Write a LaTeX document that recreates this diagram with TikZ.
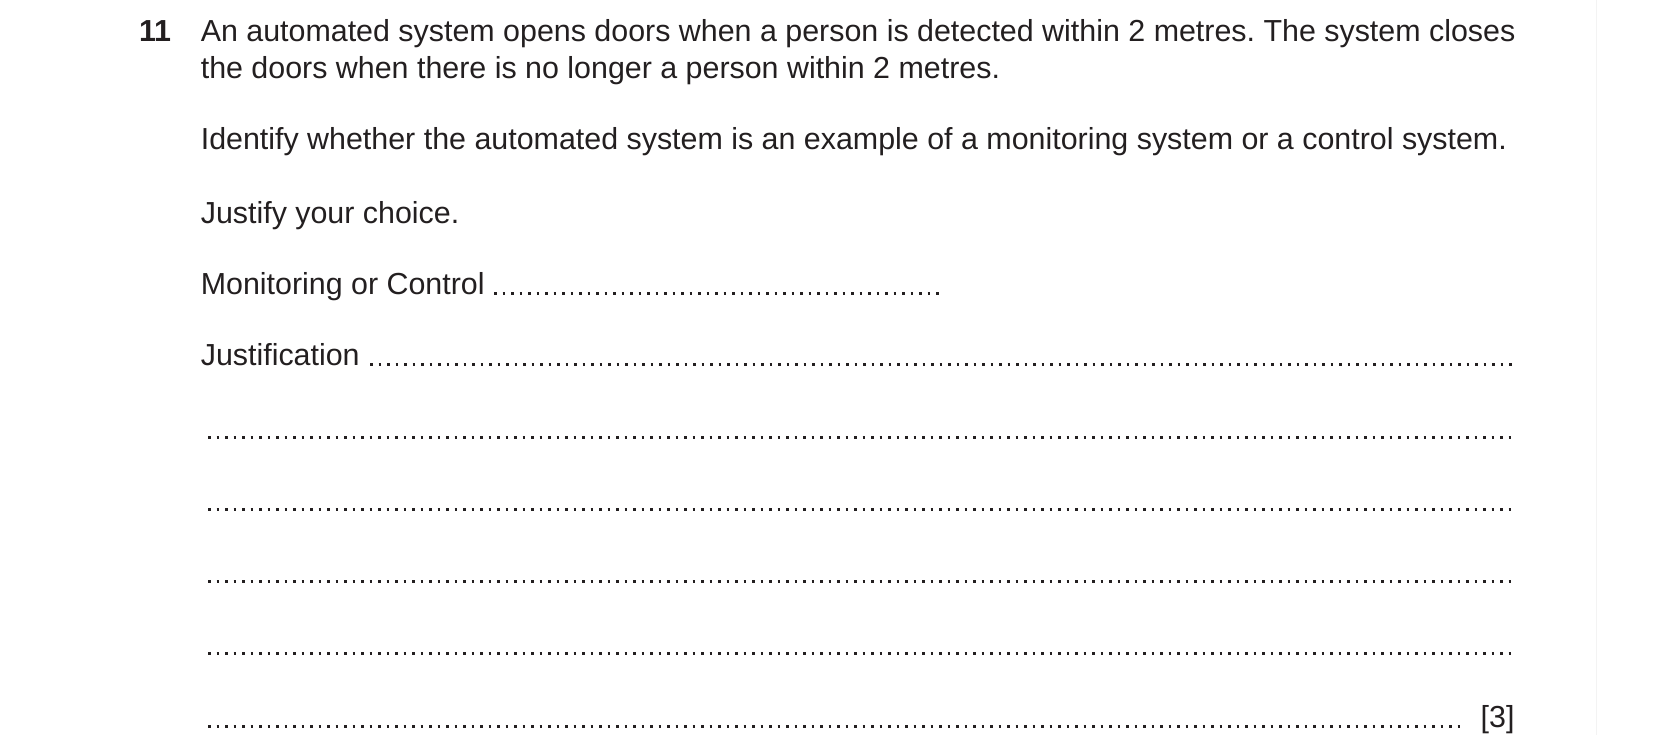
\documentclass[tikz,border=0pt]{standalone}
\usepackage{fontspec}
\setmainfont{Liberation Sans}
\frenchspacing
\definecolor{ink}{HTML}{231F20}
\definecolor{edge}{HTML}{F3F3F3}
\begin{document}
\begin{tikzpicture}[x=1pt,y=-1pt,
  txt/.style={anchor=base west,inner sep=0pt,outer sep=0pt,text=ink,font=\fontsize{30.4}{36}\selectfont\frenchspacing},
  dotline/.style={draw=ink,line width=2.7pt,line cap=butt,dash pattern=on 2.7pt off 5.8pt}]
\useasboundingbox[fill=white] (0,0) rectangle (1654,754);
\coordinate (e1) at (1596,0);
\coordinate (e2) at (1596,735);
\draw[edge,line width=1pt] (e1) -- (e2);
% question text
\node[txt,font=\fontsize{30.4}{36}\selectfont\bfseries] (qnum) at (139,41.7) {11};
\node[txt] (l1) at (200.8,41.7) {An automated system opens doors when a person is detected within 2 metres. The system closes};
\node[txt] (l2) at (200.8,78.3) {the doors when there is no longer a person within 2 metres.};
\node[txt] (l3) at (200.8,150) {Identify whether the automated system is an example of a monitoring system or a control system.};
\node[txt] (l4) at (200.8,223.4) {Justify your choice.};
\node[txt] (l5) at (200.8,294.5) {Monitoring or Control};
\node[txt] (l6) at (200.8,365.5) {Justification};
\node[txt,anchor=base east] (mark) at (1514.5,727.5) {[3]};
% answer lines
\coordinate (m0) at (494,293.3);   \coordinate (m1) at (938.7,293.3);
\coordinate (j0) at (370,364.3);   \coordinate (j1) at (1511.7,364.3);
\coordinate (a0) at (208,437.3);   \coordinate (a1) at (1511.2,437.3);
\coordinate (b0) at (208,509.3);   \coordinate (b1) at (1511.2,509.3);
\coordinate (c0) at (208,581.3);   \coordinate (c1) at (1511.2,581.3);
\coordinate (d0) at (208,653.3);   \coordinate (d1) at (1511.2,653.3);
\coordinate (f0) at (208,726.3);   \coordinate (f1) at (1460.2,726.3);
\draw[dotline] (m0) -- (m1);
\draw[dotline] (j0) -- (j1);
\draw[dotline] (a0) -- (a1);
\draw[dotline] (b0) -- (b1);
\draw[dotline] (c0) -- (c1);
\draw[dotline] (d0) -- (d1);
\draw[dotline] (f0) -- (f1);
\end{tikzpicture}
\end{document}
